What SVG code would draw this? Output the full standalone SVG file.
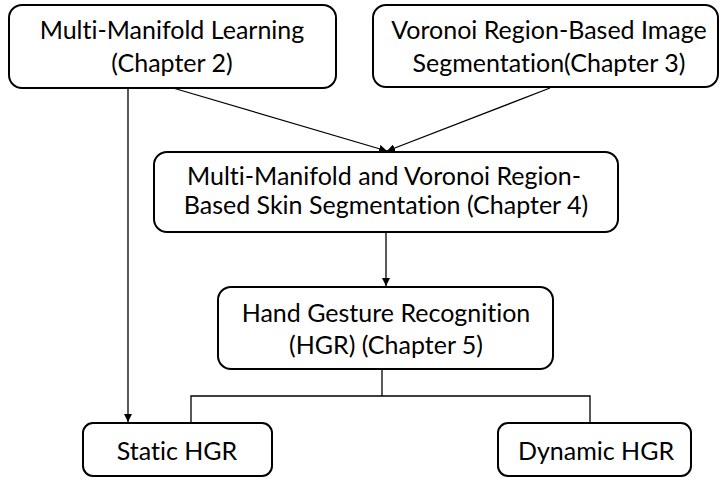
<svg xmlns="http://www.w3.org/2000/svg" width="720" height="478" viewBox="0 0 720 478">
<style>
.box{fill:#fff;stroke:#000;stroke-width:2}
.lbl{font-family:Lato,"Open Sans","Liberation Sans",sans-serif;font-size:25px;fill:#000;text-anchor:middle;font-variant-ligatures:none}
.con{fill:none;stroke:#000;stroke-width:1.3}
</style>
<defs>
<marker id="ah" viewBox="0 0 10 10" refX="10" refY="5" markerWidth="8" markerHeight="8" markerUnits="userSpaceOnUse" orient="auto">
<path d="M0,0 L10,5 L0,10 z" fill="#000"/>
</marker>
</defs>
<rect width="720" height="478" fill="#fff"/>
<g id="connectors">
<line class="con" x1="173" y1="88" x2="387" y2="151" marker-end="url(#ah)"/>
<line class="con" x1="550" y1="88" x2="387" y2="151" marker-end="url(#ah)"/>
<line class="con" x1="128" y1="88" x2="128" y2="422" marker-end="url(#ah)"/>
<line class="con" x1="386" y1="232" x2="386" y2="286" marker-end="url(#ah)"/>
<polyline class="con" points="382,369 382,396"/>
<polyline class="con" points="191,423 191,396 590,396 590,423"/>
</g>
<g id="n1">
<rect class="box" x="9" y="5" width="327" height="83" rx="13"/>
<text class="lbl" x="172" y="39">Multi-Manifold Learning</text>
<text class="lbl" x="172" y="72">(Chapter 2)</text>
</g>
<g id="n2">
<rect class="box" x="373" y="5" width="345" height="82" rx="13"/>
<text class="lbl" x="549" y="39">Voronoi Region-Based Image</text>
<text class="lbl" x="549" y="72">Segmentation(Chapter 3)</text>
</g>
<g id="n3">
<rect class="box" x="154" y="152" width="464" height="80" rx="13"/>
<text class="lbl" x="384" y="185">Multi-Manifold and Voronoi Region-</text>
<text class="lbl" x="386" y="214">Based Skin Segmentation (Chapter 4)</text>
</g>
<g id="n4">
<rect class="box" x="218" y="287" width="335" height="82" rx="13"/>
<text class="lbl" x="386" y="322">Hand Gesture Recognition</text>
<text class="lbl" x="386" y="354">(HGR) (Chapter 5)</text>
</g>
<g id="n5">
<rect class="box" x="83" y="423" width="189" height="53" rx="10"/>
<text class="lbl" x="177" y="460">Static HGR</text>
</g>
<g id="n6">
<rect class="box" x="498" y="423" width="193" height="53" rx="10"/>
<text class="lbl" x="596" y="460">Dynamic HGR</text>
</g>
</svg>
